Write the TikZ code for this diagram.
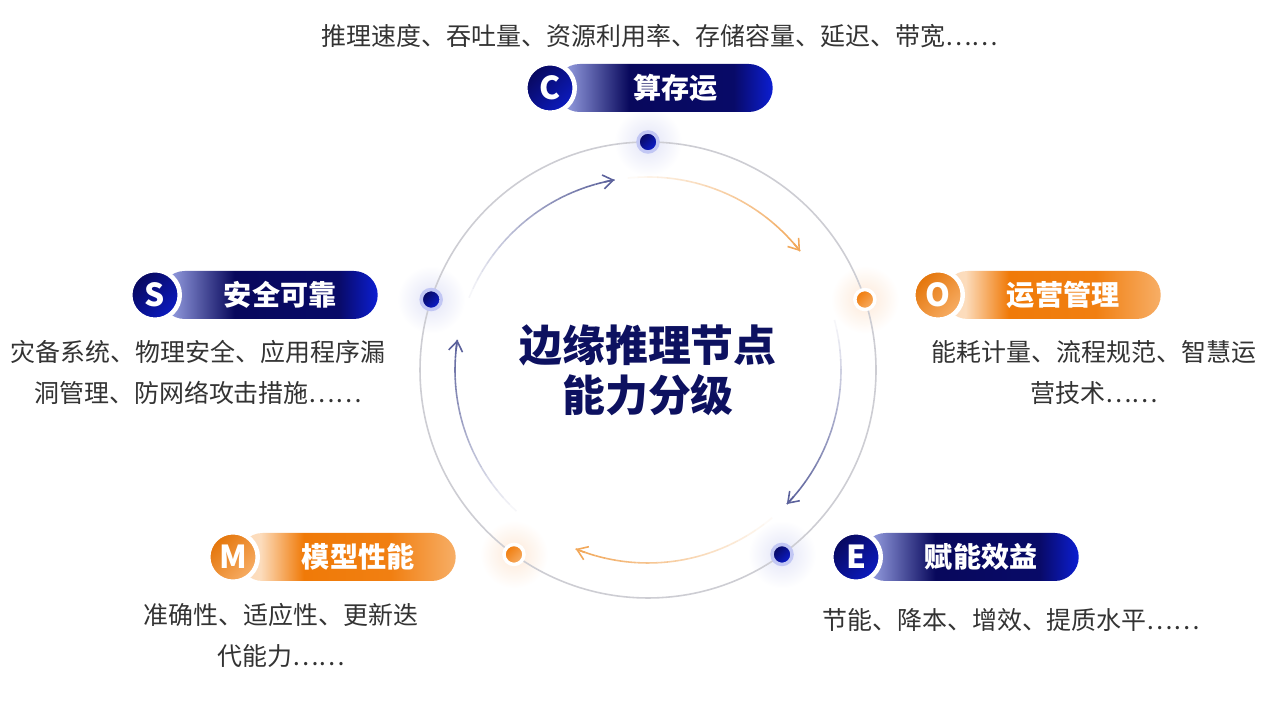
\documentclass[tikz,border=0pt]{standalone}
\usepackage{fontspec}
\setmainfont{Noto Sans CJK SC}
\usetikzlibrary{arrows.meta,calc}
\definecolor{navy}{HTML}{0D1160}
\definecolor{lavender}{HTML}{8C94D8}
\definecolor{navyd}{HTML}{08085C}
\definecolor{blueb}{HTML}{0C1ED2}
\definecolor{peach}{HTML}{FCDCBC}
\definecolor{orng}{HTML}{F07A08}
\definecolor{orngl}{HTML}{F7AE66}
\definecolor{arcblue}{HTML}{5C629C}
\definecolor{arcorng}{HTML}{F2A85A}
\definecolor{ringgray}{HTML}{CDCDD3}
\definecolor{glowb}{HTML}{E2E4F7}
\definecolor{glowo}{HTML}{FDE9D8}
\definecolor{desctxt}{HTML}{333333}
\pgfdeclarehorizontalshading{pillblue}{100bp}{color(0bp)=(lavender); color(28bp)=(lavender);
  color(42bp)=(navyd); color(66bp)=(navyd!90!blueb); color(75bp)=(blueb); color(100bp)=(blueb)}
\pgfdeclarehorizontalshading{pillorng}{100bp}{color(0bp)=(peach); color(30bp)=(peach);
  color(40bp)=(orng); color(60bp)=(orng!90!orngl); color(75bp)=(orngl); color(100bp)=(orngl)}
\tikzset{
  pill/.style = {rectangle, rounded corners=0.24cm, minimum width=2.17cm,
    minimum height=0.48cm, inner sep=0pt, anchor=west},
  pill_b/.style = {pill, shading=pillblue},
  pill_o/.style = {pill, shading=pillorng},
  badge/.style = {circle, minimum size=0.495cm, inner sep=0pt, draw=white,
    line width=0.45mm, text=white, font=\fontsize{9}{9}\selectfont\bfseries},
  badge_b/.style = {badge, top color=navyd, bottom color=blueb!85!navyd, shading angle=45},
  badge_o/.style = {badge, top color=orng!95!black, bottom color=orngl, shading angle=45},
  pill_txt/.style = {text=white, font=\fontsize{8}{9}\selectfont\bfseries, inner sep=0pt},
  desc/.style = {text=desctxt, align=center, inner sep=0pt,
    font=\fontsize{7.1}{11.6}\selectfont},
  title/.style = {text=navy, align=center, inner sep=0pt,
    font=\fontsize{12.2}{14.2}\selectfont\bfseries},
  dot/.style = {circle, minimum size=0.2cm, inner sep=0pt, line width=0.35mm},
  dot_b/.style = {dot, draw=white!75!blueb, top color=navyd, bottom color=blueb, shading angle=45},
  dot_o/.style = {dot, draw=white, top color=orng, bottom color=orngl, shading angle=45},
  ring/.style = {draw=ringgray, line width=0.45pt},
}
\begin{document}
\begin{tikzpicture}[>={Straight Barb[length=1mm,width=1.4mm]}]
  \useasboundingbox[fill=white] (0,0) rectangle (12.80,7.17);
  \coordinate (O) at (6.48,3.47);

  %   glow round the dots
  \foreach \ang/\g in {90/glowb,18/glowo,-54/glowb,-126/glowo,162/glowb}
    \shade[inner color=\g, outer color=white] ([shift={(\ang:2.28)}]O) circle (0.34);

  \draw[ring] (O) circle (2.28);

  %   fading arcs, clockwise
  \foreach \a/\b/\c in {158/100/arcblue, 96/38/arcorng, 15/-44/arcblue,
      -50/-112/arcorng, -133/-189/arcblue}{
    \foreach \i in {1,...,20}{
      \pgfmathsetmacro\sa{\a-(\a-\b)*(\i-1)/20}
      \pgfmathsetmacro\ea{\a-(\a-\b)*\i/20}
      \pgfmathsetmacro\op{\i/20}
      \draw[draw=\c, line width=0.45pt, opacity=\op]
        ([shift={(\sa:1.93)}]O) arc[start angle=\sa, end angle=\ea, radius=1.93];
    }
    \draw[->, draw=\c, line width=0.45pt]
      ([shift={(\b+3:1.93)}]O) arc[start angle=\b+3, end angle=\b, radius=1.93];
  }

  \node[dot_b] (dC) at ([shift={(90:2.28)}]O) {};
  \node[dot_o] (dO) at ([shift={(18:2.28)}]O) {};
  \node[dot_b] (dE) at ([shift={(-54:2.28)}]O) {};
  \node[dot_o] (dM) at ([shift={(-126:2.28)}]O) {};
  \node[dot_b] (dS) at ([shift={(162:2.28)}]O) {};

  \node[title] (ttl) at (O) {边缘推理节点\\能力分级};

  %   C
  \node[pill_b] (pC) at (5.55,6.29) {};
  \node[badge_b] (bC) at (5.50,6.29) {C};
  \node[pill_txt] (tC) at ($(bC.east)!.5!(pC.east)$) {算存运};
  \node[desc] (xC) at (6.60,6.81) {推理速度、吞吐量、资源利用率、存储容量、延迟、带宽……};
  %   O
  \node[pill_o] (pO) at (9.43,4.22) {};
  \node[badge_o] (bO) at (9.38,4.22) {O};
  \node[pill_txt] (tO) at ($(bO.east)!.5!(pO.east)$) {运营管理};
  \node[desc] (xO) at (10.94,3.445) {能耗计量、流程规范、智慧运\\营技术……};
  %   S
  \node[pill_b] (pS) at (1.60,4.22) {};
  \node[badge_b] (bS) at (1.55,4.22) {S};
  \node[pill_txt] (tS) at ($(bS.east)!.5!(pS.east)$) {安全可靠};
  \node[desc] (xS) at (1.98,3.445) {灾备系统、物理安全、应用程序漏\\洞管理、防网络攻击措施……};
  %   M
  \node[pill_o] (pM) at (2.38,1.60) {};
  \node[badge_o] (bM) at (2.33,1.60) {M};
  \node[pill_txt] (tM) at ($(bM.east)!.5!(pM.east)$) {模型性能};
  \node[desc] (xM) at (2.81,0.815) {准确性、适应性、更新迭\\代能力……};
  %   E
  \node[pill_b] (pE) at (8.61,1.60) {};
  \node[badge_b] (bE) at (8.56,1.60) {E};
  \node[pill_txt] (tE) at ($(bE.east)!.5!(pE.east)$) {赋能效益};
  \node[desc] (xE) at (10.11,0.97) {节能、降本、增效、提质水平……};
\end{tikzpicture}
\end{document}
